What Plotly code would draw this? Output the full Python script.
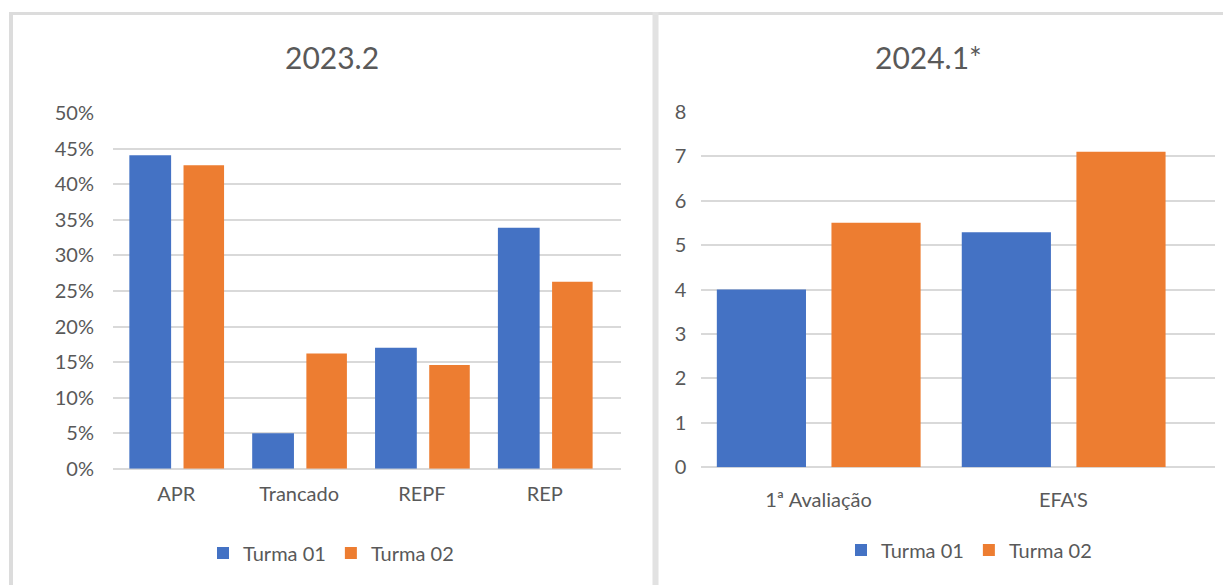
import plotly.graph_objects as go

# ---- data ----
cats_left = ["APR", "Trancado", "REPF", "REP"]
turma01_left = [0.441, 0.050, 0.170, 0.339]
turma02_left = [0.427, 0.162, 0.146, 0.263]

cats_right = ["1ª Avaliação", "EFA'S"]
turma01_right = [4.0, 5.29]
turma02_right = [5.5, 7.1]

title_left = "2023.2"
title_right = "2024.1*"
series_names = ["Turma 01", "Turma 02"]

BLUE = "#4472C4"
ORANGE = "#ED7D31"
TXT = "#595959"
GRID = "#d9d9d9"
FONT = "Lato"

W, H = 1231, 585
OFF = 8  # page body margin offset
def px(x):
    return (x - OFF) / W
def py(y):
    return 1 - (y - OFF) / H

fig = go.Figure()

fig.add_trace(go.Bar(x=cats_left, y=turma01_left, name=series_names[0],
                     marker=dict(color=BLUE, line=dict(width=0)),
                     offset=-0.382, width=0.34, xaxis="x", yaxis="y",
                     legend="legend"))
fig.add_trace(go.Bar(x=cats_left, y=turma02_left, name=series_names[1],
                     marker=dict(color=ORANGE, line=dict(width=0)),
                     offset=0.059, width=0.33, xaxis="x", yaxis="y",
                     legend="legend"))
fig.add_trace(go.Bar(x=cats_right, y=turma01_right, name=series_names[0],
                     marker=dict(color=BLUE, line=dict(width=0)),
                     offset=-0.415, width=0.364, xaxis="x2", yaxis="y2",
                     legend="legend2"))
fig.add_trace(go.Bar(x=cats_right, y=turma02_right, name=series_names[1],
                     marker=dict(color=ORANGE, line=dict(width=0)),
                     offset=0.053, width=0.364, xaxis="x2", yaxis="y2",
                     legend="legend2"))

tickfont = dict(family=FONT, size=20, color=TXT)
legfont = dict(family=FONT, size=20, color=TXT)

fig.update_layout(
    width=W, height=H,
    margin=dict(l=0, r=0, t=0, b=0, autoexpand=False),
    paper_bgcolor="white", plot_bgcolor="white",
    barmode="overlay",
    font=dict(family=FONT, color=TXT),
    xaxis=dict(domain=[px(113), px(621)], anchor="y", type="category",
               range=[-0.515, 3.62], showgrid=False, zeroline=False,
               showline=False, ticks="", tickfont=tickfont, automargin=False,
               ticklabelstandoff=11, fixedrange=True),
    yaxis=dict(domain=[py(468.7), py(113.3)], anchor="x",
               range=[0, 0.5], dtick=0.05, tickformat=".0%",
               showgrid=True, gridcolor=GRID, gridwidth=1.5,
               zeroline=True, zerolinecolor=GRID, zerolinewidth=1.5,
               showline=False, ticks="", tickfont=tickfont, automargin=False,
               ticklabelstandoff=18, fixedrange=True),
    xaxis2=dict(domain=[px(701.4), px(1214.8)], anchor="y2", type="category",
                range=[-0.478, 1.618], showgrid=False, zeroline=False,
                showline=False, ticks="", tickfont=tickfont, automargin=False,
                ticklabelstandoff=19, fixedrange=True),
    yaxis2=dict(domain=[py(467.3), py(111.7)], anchor="x2",
                range=[0, 8], dtick=1,
                showgrid=True, gridcolor=GRID, gridwidth=1.5,
                zeroline=True, zerolinecolor=GRID, zerolinewidth=1.5,
                showline=False, ticks="", tickfont=tickfont, automargin=False,
                ticklabelstandoff=14, fixedrange=True),
    legend=dict(orientation="h", x=px(331), y=py(553), xanchor="center",
                yanchor="middle", font=legfont,
                itemwidth=30, bgcolor="rgba(0,0,0,0)"),
    legend2=dict(orientation="h", x=px(969), y=py(550), xanchor="center",
                 yanchor="middle", font=legfont,
                 itemwidth=30, bgcolor="rgba(0,0,0,0)"),
    annotations=[
        dict(text=title_left, x=px(332), y=py(57), xref="paper", yref="paper",
             xanchor="center", yanchor="middle", showarrow=False,
             font=dict(family=FONT, size=30, color=TXT)),
        dict(text=title_right, x=px(928), y=py(57), xref="paper", yref="paper",
             xanchor="center", yanchor="middle", showarrow=False,
             font=dict(family=FONT, size=30, color=TXT)),
    ],
    shapes=[
        dict(type="line", xref="paper", yref="paper", x0=px(9), x1=1,
             y0=py(13.5), y1=py(13.5), line=dict(color="#dcdcdc", width=3)),
        dict(type="line", xref="paper", yref="paper", x0=px(11), x1=px(11),
             y0=py(12), y1=0, line=dict(color="#dcdcdc", width=4)),
        dict(type="line", xref="paper", yref="paper", x0=px(655.5), x1=px(655.5),
             y0=py(12), y1=0, line=dict(color="#e2e2e2", width=6)),
    ],
)

fig.write_html("out.html")
